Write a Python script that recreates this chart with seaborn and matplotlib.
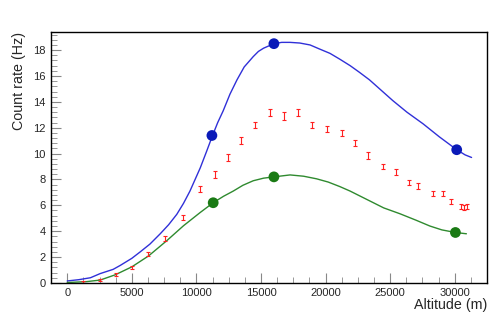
import numpy as np
import pandas as pd
import matplotlib
matplotlib.use("Agg")
import matplotlib.pyplot as plt
import seaborn as sns
from matplotlib.ticker import MultipleLocator

sns.set_theme(style="white")
plt.rcParams['font.family'] = ['Liberation Sans', 'DejaVu Sans']

# red measured points (altitude m, rate Hz, error)
alt_meas = [1240, 2500, 3750, 5000, 6250, 7600, 8950, 10300, 11450, 12450, 13450,
            14550, 15700, 16800, 17870, 18950, 20100, 21250, 22300, 23300, 24450,
            25450, 26450, 27150, 28300, 29100, 29700, 30450, 30700, 30950]
rate_meas = [0.08, 0.2, 0.65, 1.22, 2.25, 3.43, 5.08, 7.28, 8.38, 9.7, 11.0,
             12.2, 13.2, 12.9, 13.2, 12.2, 11.9, 11.6, 10.8, 9.85, 9.0,
             8.6, 7.75, 7.5, 6.9, 6.9, 6.3, 5.9, 5.85, 5.9]
err_meas = [0.05, 0.08, 0.1, 0.12, 0.15, 0.18, 0.2, 0.25, 0.25, 0.25, 0.25,
            0.25, 0.28, 0.28, 0.28, 0.25, 0.25, 0.25, 0.25, 0.25, 0.22,
            0.22, 0.2, 0.2, 0.2, 0.2, 0.2, 0.2, 0.2, 0.2]

# blue curve
alt_blue = [0, 900, 1800, 2550, 3560, 4100, 5000, 5650, 6400, 7200, 7850, 8480,
            9000, 9500, 10300, 10800, 11250, 11650, 12070, 12600, 13140, 13700,
            14400, 14800, 15200, 16000, 16600, 17250, 18000, 18800, 19500, 20340,
            21100, 21900, 22600, 23400, 24300, 25200, 26300, 27550, 28800, 30150,
            30800, 31300]
rate_blue = [0.15, 0.25, 0.4, 0.72, 1.05, 1.35, 1.9, 2.4, 3.0, 3.8, 4.5, 5.3,
             6.15, 7.1, 8.9, 10.2, 11.4, 12.4, 13.3, 14.6, 15.7, 16.7,
             17.5, 17.9, 18.15, 18.5, 18.6, 18.6, 18.55, 18.4, 18.1, 17.75,
             17.3, 16.8, 16.3, 15.7, 14.9, 14.1, 13.2, 12.3, 11.3, 10.3,
             9.9, 9.7]
alt_blue_pts = [11200, 16000, 30150]
rate_blue_pts = [11.4, 18.5, 10.3]

# green curve
alt_green = [0, 1500, 2550, 3700, 5000, 6300, 7700, 9000, 10300, 11300, 12100,
             12850, 13600, 14400, 15200, 16000, 17250, 18300, 19300, 20200, 21100,
             21900, 23400, 24500, 25750, 27000, 28070, 29000, 30050, 30900]
rate_green = [0.03, 0.1, 0.22, 0.62, 1.24, 2.09, 3.26, 4.42, 5.45, 6.2, 6.7,
              7.1, 7.55, 7.9, 8.1, 8.2, 8.35, 8.25, 8.05, 7.8, 7.45,
              7.1, 6.35, 5.8, 5.35, 4.85, 4.4, 4.1, 3.9, 3.8]
alt_green_pts = [11300, 16000, 30050]
rate_green_pts = [6.2, 8.2, 3.9]

fig = plt.figure(figsize=(4.91, 3.14), dpi=100)
ax = fig.add_axes([0.104, 0.099, 0.888, 0.799])

blue_line = "#3030d8"
green_line = "#2f8a2f"

sns.lineplot(x=alt_blue, y=rate_blue, ax=ax, color=blue_line, lw=1.0, sort=False)
sns.lineplot(x=alt_green, y=rate_green, ax=ax, color=green_line, lw=1.0, sort=False)
ax.errorbar(alt_meas, rate_meas, yerr=err_meas, fmt='none', ecolor='#ff2020',
            elinewidth=0.8, capsize=1.3, capthick=0.8)
sns.scatterplot(x=alt_blue_pts, y=rate_blue_pts, ax=ax, color="#0a1ab8", s=60,
                edgecolor="none", zorder=5)
sns.scatterplot(x=alt_green_pts, y=rate_green_pts, ax=ax, color="#1a7a14", s=60,
                edgecolor="none", zorder=5)

ax.set_xlim(-1250, 32500)
ax.set_ylim(0, 19.4)
ax.xaxis.set_major_locator(MultipleLocator(5000))
ax.xaxis.set_minor_locator(MultipleLocator(1250))
ax.yaxis.set_major_locator(MultipleLocator(2))
ax.yaxis.set_minor_locator(MultipleLocator(0.4))
ax.tick_params(which='both', direction='in', color='#888888', labelsize=8,
               top=False, right=False, bottom=True, left=True, pad=4)
ax.tick_params(which='major', length=7, width=0.8)
ax.tick_params(which='minor', length=4, width=0.6)

for sp in ax.spines.values():
    sp.set_color('black')
    sp.set_linewidth(1.0)

ax.set_xlabel("Altitude (m)", fontsize=10.3, loc='right', labelpad=0)
ax.set_ylabel("Count rate (Hz)", fontsize=10.3, loc='top', labelpad=5)

fig.savefig("out.png", dpi=100)
